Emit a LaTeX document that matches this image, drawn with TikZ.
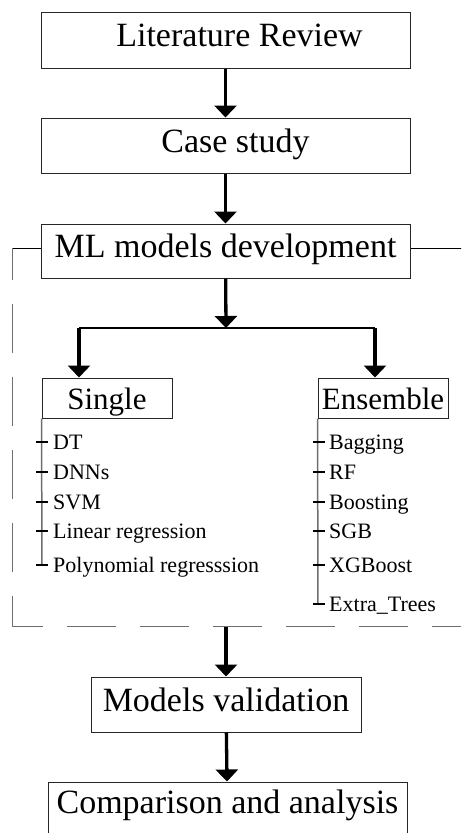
\documentclass[tikz,border=0pt]{standalone}
\usepackage{fontspec}
\setmainfont{Liberation Serif}
\usetikzlibrary{arrows.meta,positioning}
\definecolor{fGray}{RGB}{110,110,110}

\begin{document}
\begin{tikzpicture}[x=1pt,y=-1pt,
  box/.style={draw=black!85,line width=1pt,inner sep=0pt,text height=23pt,text depth=10pt,font=\fontsize{34}{40}\selectfont},
  sub/.style={draw=black!85,line width=1pt,inner sep=0pt,minimum width=130pt,minimum height=40pt,text height=22pt,text depth=0pt,font=\fontsize{31}{36}\selectfont},
  item/.style={anchor=base west,inner sep=0pt,font=\fontsize{22}{26}\selectfont},
  arr/.style={-{Triangle[width=22pt,length=12pt]},line width=3.3pt},
  tree/.style={fGray,line width=1.5pt},
  frm/.style={fGray,line width=1pt}]
  \useasboundingbox (0,0) rectangle (461,833);
  \clip (0,0) rectangle (461,833);
  % main steps
  \node[box,minimum width=369pt,minimum height=56pt] (lit) at (225.5,40) {\hspace*{28pt}Literature Review};
  \node[box,minimum width=369pt,minimum height=55pt] (case) at (225.5,145.5) {\hspace*{20pt}Case study};
  \node[box,minimum width=369pt,minimum height=54pt] (ml) at (225.5,251) {ML models development};
  \node[sub] (single) at (107,398) {Single};
  \node[sub] (ens) at (383,398) {Ensemble};
  \node[box,minimum width=270pt,minimum height=55pt] (val) at (226,704.5) {Models validation};
  \node[box,minimum width=359pt,minimum height=70pt] (comp) at (227.5,817) {};
  \node[font=\fontsize{34}{40}\selectfont,anchor=base,inner sep=0pt] (compt) at (227.5,813) {Comparison and analysis};
  \draw[arr] (lit) -- (case);
  \draw[arr] (case) -- (ml);
  % split into single / ensemble
  \coordinate (jm) at (226,328);
  \coordinate (jl) at (79,328);
  \coordinate (jr) at (375,328);
  \draw[arr] (ml) -- (jm);
  \draw[line width=1.5pt] (jl) -- (jr);
  \draw[arr] (jl) -- (jl |- single.north);
  \draw[arr] (jr) -- (jr |- ens.north);
  % model lists
  \draw[tree] (single.south west) -- (42,565);
  \foreach \y/\t [count=\i] in {442/DT,472/DNNs,502/SVM,531/Linear regression,565/Polynomial regresssion}{
    \node[item] (s\i) at (53,\y+7) {\t};
    \draw[line width=1.2pt] (36,\y) -- (48,\y);
  }
  \draw[tree] (ens.south west) -- (318,604);
  \foreach \y/\t [count=\i] in {442/Bagging,472/RF,502/Boosting,531/SGB,565/XGBoost,604/Extra\_Trees}{
    \node[item] (e\i) at (329,\y+7) {\t};
    \draw[line width=1.2pt] (313,\y) -- (325,\y);
  }
  % dashed frame round the models
  \draw[line width=1pt] (ml.west |- 0,248) -- (12,248);
  \draw[line width=1pt] (ml.east |- 0,248) -- (470,248);
  \draw[frm,dash pattern=on 49pt off 24pt,dash phase=17pt] (12,248) -- (12,626);
  \draw[frm,dash pattern=on 49pt off 24pt,dash phase=18pt] (12,626) -- (470,626);
  \coordinate (fb) at (226,627);
  \draw[arr] (fb) -- (val);
  \draw[arr] (val) -- (comp);
\end{tikzpicture}
\end{document}
